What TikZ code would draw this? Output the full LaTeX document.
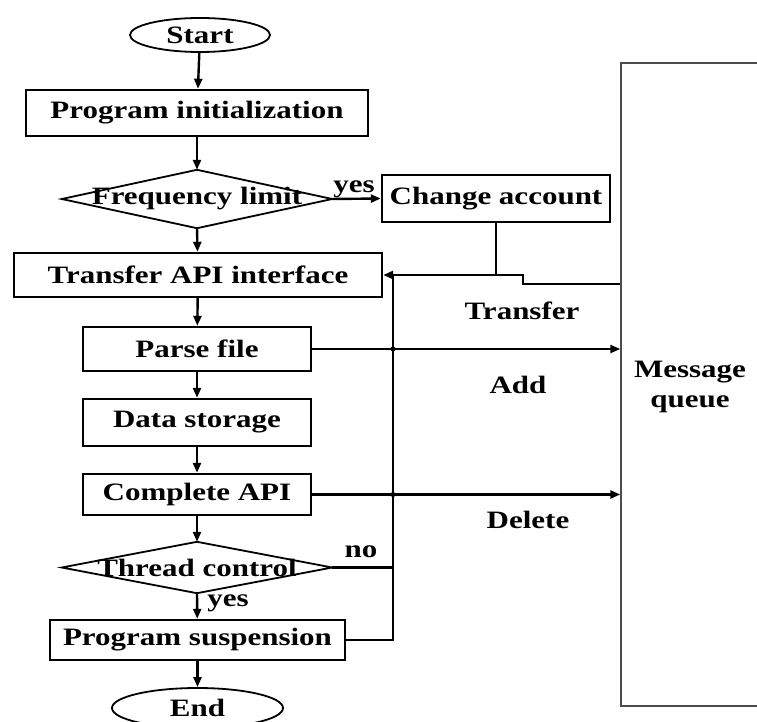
\documentclass[tikz,border=0pt]{standalone}
\usepackage{fontspec}
\setmainfont{Liberation Serif}[FakeStretch=1.24]
\usetikzlibrary{arrows.meta,shapes.geometric}
\begin{document}
\begin{tikzpicture}[x=1pt,y=-1pt,
  every node/.style={font=\fontsize{25}{28}\selectfont\bfseries, inner sep=0pt},
  box/.style={draw, line width=2.4pt, rectangle},
  oval/.style={draw, line width=1.8pt, ellipse},
  dia/.style={rectangle},
  con/.style={line width=2.4pt},
  arr/.style={con, -{Triangle[length=10pt,width=8pt]}},
  lbl/.style={font=\fontsize{25}{28}\selectfont\bfseries}
]
\useasboundingbox (0,0) rectangle (757,722);
% nodes
\node[oval, minimum width=140, minimum height=34] (st) at (200,35) {Start};
\node[box, minimum width=342, minimum height=46] (pi) at (197,113) {Program initialization};
\node[dia, minimum width=270, minimum height=58] (fl) at (197,199) {Frequency limit};
\draw[line width=1.8pt] (fl.west) -- (fl.north) -- (fl.east) -- (fl.south) -- cycle;
\node[box, minimum width=228, minimum height=47] (ca) at (496,198.5) {Change account};
\node[box, minimum width=368, minimum height=44] (ta) at (198,275) {Transfer API interface};
\node[box, minimum width=228, minimum height=44] (pf) at (197,349) {Parse file};
\node[box, minimum width=228, minimum height=47] (ds) at (197,422.5) {Data storage};
\node[box, minimum width=228, minimum height=41] (ce) at (197,494.5) {Complete API};
\node[dia, minimum width=270, minimum height=51] (tc) at (197,567.5) {Thread control};
\draw[line width=1.8pt] (tc.west) -- (tc.north) -- (tc.east) -- (tc.south) -- cycle;
\node[box, minimum width=295, minimum height=40] (ps) at (197.5,640) {Program suspension};
\node[oval, minimum width=171, minimum height=40] (en) at (197.5,708) {End};
% message queue
\node[draw=black!70, line width=1.5pt, rectangle, minimum width=190, minimum height=643] (mq) at (716,384.5) {};
\node[align=center] (mqt) at (690,387) {Message\\[2pt]queue};
% main flow
\draw[arr] (st) -- (pi);
\draw[arr] (pi) -- (fl.north);
\draw[arr] (fl.south) -- (ta);
\draw[arr] (ta) -- (pf);
\draw[arr] (pf) -- (ds);
\draw[arr] (ds) -- (ce);
\draw[arr] (ce) -- (tc.north);
\draw[arr] (tc.south) -- (ps);
\draw[arr] (ps) -- (en);
\draw[arr] (fl.east) -- (ca.west);
% feedback
\coordinate (bus) at (393,275);
\draw[con] (ps.east) -- (ps.east -| bus) -- (bus);
\draw[arr] (ca.south |- ta.east) -- (ta.east);
\draw[con] (tc.east) -- (tc.east -| bus);
\draw[con] (ca.south) -- (ca.south |- ta.east);
\draw[con] (ca.south |- ta.east) -- (523,275) -- (523,284) -- (mq.west |- 0,284);
\draw[arr] (pf.east) -- (pf.east -| mq.west);
\draw[arr] (ce.east) -- (ce.east -| mq.west);
\fill (pf.east -| bus) circle (2.5);
\fill (ce.east -| bus) circle (2.5);
% labels
\node[lbl] (l1) at (354,189) {yes};
\node[lbl] (l2) at (228,603) {yes};
\node[lbl] (l3) at (361,552) {no};
\node[lbl] (l4) at (522,311) {Transfer};
\node[lbl] (l5) at (518,385) {Add};
\node[lbl] (l6) at (528,520) {Delete};
\end{tikzpicture}
\end{document}
